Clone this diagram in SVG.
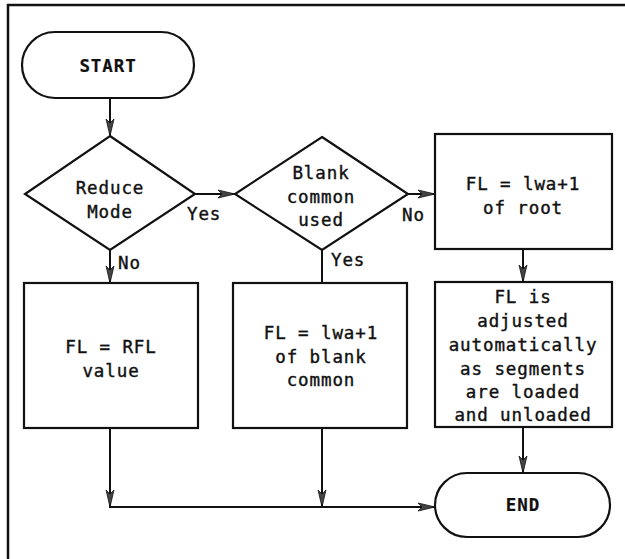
<svg xmlns="http://www.w3.org/2000/svg" width="625" height="559" viewBox="0 0 625 559">
<defs>
<style>
.shape{fill:#fff;stroke:#111;stroke-width:2.2}
.frame{fill:none;stroke:#111;stroke-width:2.5}
.conn{fill:none;stroke:#111;stroke-width:2}
text{font-family:"DejaVu Sans Mono","Liberation Mono",monospace;font-size:17.5px;fill:#111;stroke:#111;stroke-width:0.4;text-anchor:middle;letter-spacing:0.9px}
.b{font-weight:bold;stroke-width:0.2}
.lbl{text-anchor:start}
</style>
<marker id="ah" viewBox="0 0 18 10" refX="17" refY="5" markerWidth="18" markerHeight="10" markerUnits="userSpaceOnUse" orient="auto">
<path d="M0,1 L17,5 L0,9 L4,5 Z" fill="#444" stroke="#111" stroke-width="0.8"/>
</marker>
</defs>
<rect width="625" height="559" fill="#fff"/>
<path class="frame" d="M8,559 V5 H625"/>
<g id="start"><rect class="shape" x="22" y="32" width="172" height="66" rx="33"/><text class="b" x="108" y="72">START</text></g>
<g id="reduce"><polygon class="shape" points="110,136 195,194 110,250 25,194"/><text x="110" y="194">Reduce</text><text x="110" y="218">Mode</text></g>
<g id="blank"><polygon class="shape" points="322,137 408,194 322,250 235,194"/><text x="321" y="179">Blank</text><text x="321" y="203">common</text><text x="321" y="226">used</text></g>
<g id="root"><rect class="shape" x="435" y="134" width="177" height="115"/><text x="523" y="190">FL = lwa+1</text><text x="523" y="214">of root</text></g>
<g id="rfl"><rect class="shape" x="24" y="283" width="174" height="145"/><text x="111" y="353">FL = RFL</text><text x="111" y="377">value</text></g>
<g id="blankfl"><rect class="shape" x="233" y="283" width="174" height="145"/><text x="321" y="339">FL = lwa+1</text><text x="321" y="363">of blank</text><text x="321" y="386">common</text></g>
<g id="adjust"><rect class="shape" x="435" y="282" width="177" height="145"/><text x="523" y="303">FL is</text><text x="523" y="327">adjusted</text><text x="523" y="351">automatically</text><text x="523" y="375">as segments</text><text x="523" y="398">are loaded</text><text x="523" y="421">and unloaded</text></g>
<g id="end"><rect class="shape" x="435" y="473" width="175" height="64" rx="32"/><text class="b" x="523" y="511">END</text></g>
<g id="connectors">
<line class="conn" x1="110" y1="98" x2="110" y2="136" marker-end="url(#ah)"/>
<line class="conn" x1="195" y1="194" x2="235" y2="194" marker-end="url(#ah)"/>
<line class="conn" x1="408" y1="194" x2="435" y2="194" marker-end="url(#ah)"/>
<line class="conn" x1="110" y1="250" x2="110" y2="283" marker-end="url(#ah)"/>
<line class="conn" x1="322" y1="250" x2="322" y2="283"/>
<line class="conn" x1="523" y1="249" x2="523" y2="282" marker-end="url(#ah)"/>
<line class="conn" x1="110" y1="428" x2="110" y2="507" marker-end="url(#ah)"/>
<line class="conn" x1="322" y1="428" x2="322" y2="507" marker-end="url(#ah)"/>
<line class="conn" x1="109" y1="507" x2="435" y2="507" marker-end="url(#ah)"/>
<line class="conn" x1="523" y1="427" x2="523" y2="473" marker-end="url(#ah)"/>
<text class="lbl" x="187" y="220">Yes</text>
<text class="lbl" x="118" y="269">No</text>
<text class="lbl" x="331" y="266">Yes</text>
<text class="lbl" x="402" y="221">No</text>
</g>
</svg>
